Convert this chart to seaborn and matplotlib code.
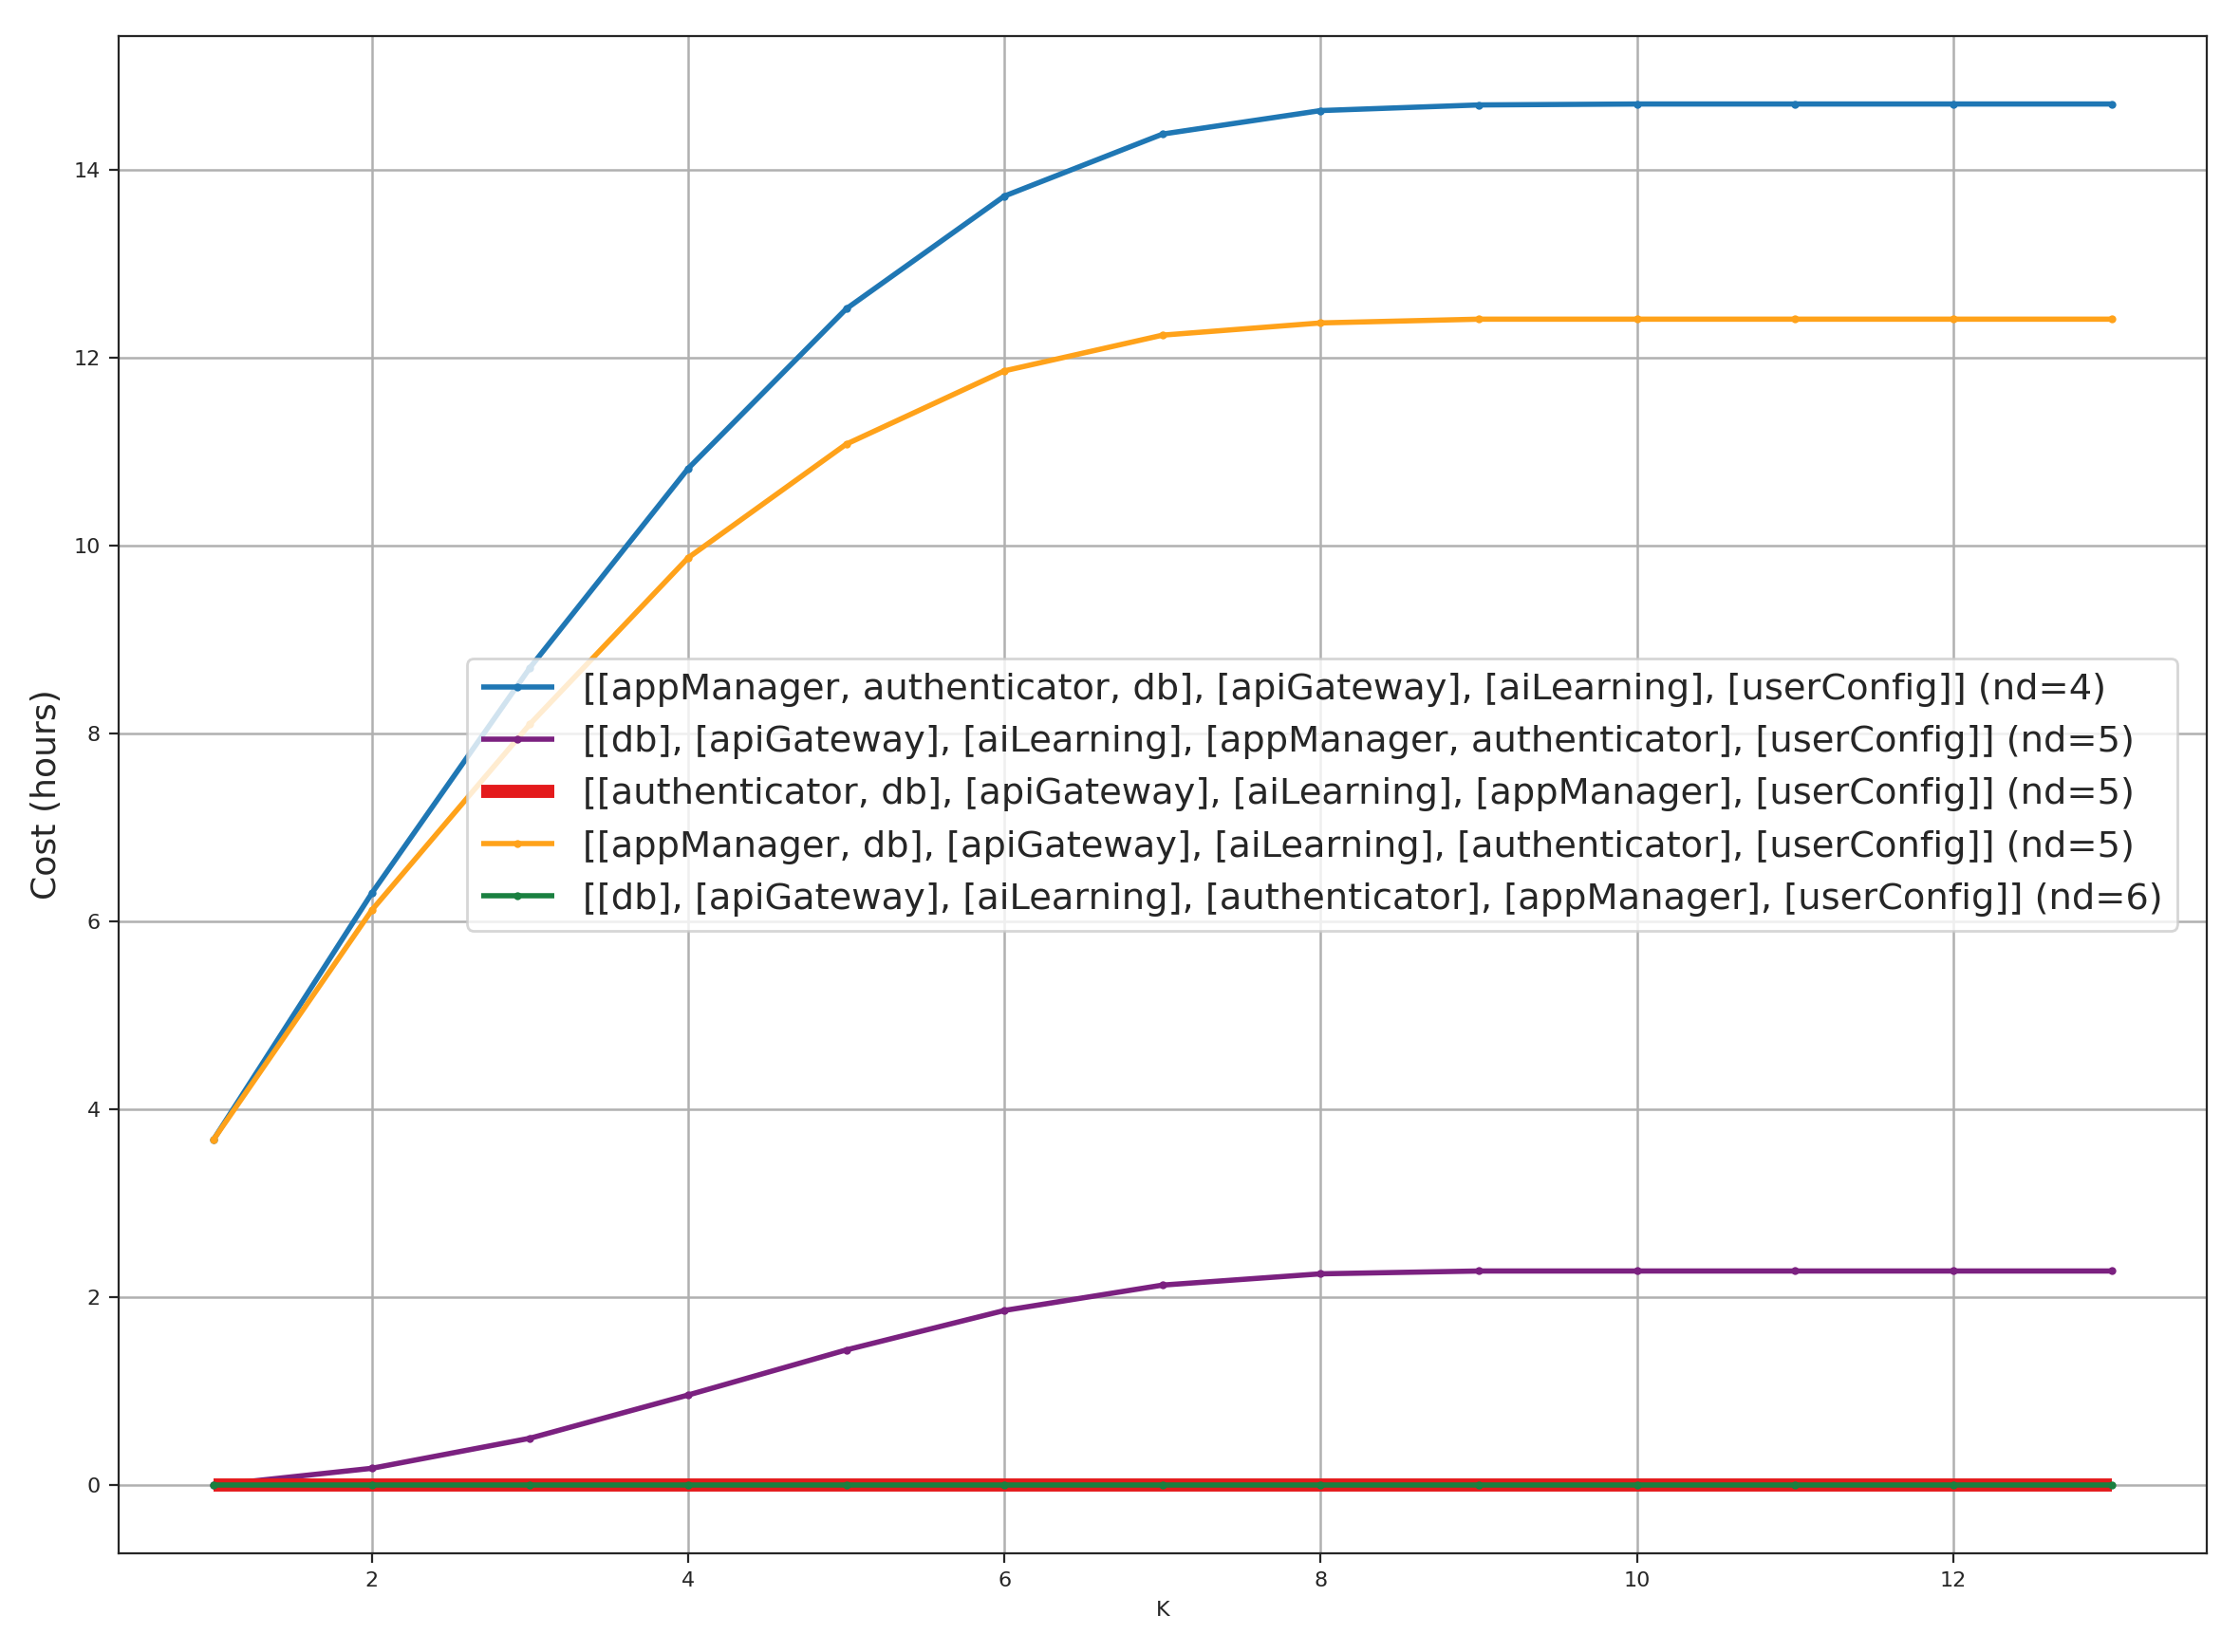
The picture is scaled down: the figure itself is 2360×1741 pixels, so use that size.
import numpy as np
import pandas as pd
import seaborn as sns
import matplotlib.pyplot as plt

k = list(range(1, 14))

labels = [
    "[[appManager, authenticator, db], [apiGateway], [aiLearning], [userConfig]] (nd=4)",
    "[[db], [apiGateway], [aiLearning], [appManager, authenticator], [userConfig]] (nd=5)",
    "[[authenticator, db], [apiGateway], [aiLearning], [appManager], [userConfig]] (nd=5)",
    "[[appManager, db], [apiGateway], [aiLearning], [authenticator], [userConfig]] (nd=5)",
    "[[db], [apiGateway], [aiLearning], [authenticator], [appManager], [userConfig]] (nd=6)",
]

cost_nd4 = [3.68, 6.30, 8.70, 10.82, 12.52, 13.72, 14.38, 14.63, 14.69, 14.70, 14.70, 14.70, 14.70]
cost_nd5a = [0.0, 0.18, 0.50, 0.96, 1.44, 1.86, 2.13, 2.25, 2.28, 2.28, 2.28, 2.28, 2.28]
cost_nd5b = [0.0] * 13
cost_nd5c = [3.68, 6.12, 8.10, 9.87, 11.08, 11.86, 12.24, 12.37, 12.41, 12.41, 12.41, 12.41, 12.41]
cost_nd6 = [0.0] * 13

series = [cost_nd4, cost_nd5a, cost_nd5b, cost_nd5c, cost_nd6]
colors = ["#1f77b4", "#7b2180", "#e41a1c", "#ffa21a", "#1a8040"]
widths = [2.0, 2.0, 5.0, 2.0, 2.0]
markers = ["o", "o", None, "o", "o"]

sns.set_style("ticks")
fig, ax = plt.subplots(figsize=(11.8, 8.705), dpi=200)

for vals, lab, c, w, m in zip(series, labels, colors, widths, markers):
    df = pd.DataFrame({"K": k, "cost": vals})
    sns.lineplot(data=df, x="K", y="cost", ax=ax, color=c, linewidth=w,
                 marker=m, markersize=3, markeredgewidth=0, label=lab,
                 solid_capstyle="butt")

ax.grid(True, color="#b0b0b0", linewidth=0.9)
ax.set_axisbelow(True)
ax.set_ylim(-0.72, 15.42)
ax.set_xlim(0.4, 13.6)
ax.set_xticks([2, 4, 6, 8, 10, 12])
ax.set_yticks([0, 2, 4, 6, 8, 10, 12, 14])
ax.tick_params(labelsize=8)
ax.set_xlabel("K", fontsize=8)
ax.set_ylabel("Cost (hours)", fontsize=13)
ax.legend(loc="center right", bbox_to_anchor=(0.995, 0.5), fontsize=13.8, framealpha=0.8)

plt.subplots_adjust(left=0.053, right=0.985, top=0.978, bottom=0.06)
plt.savefig("out.png", dpi=200)
